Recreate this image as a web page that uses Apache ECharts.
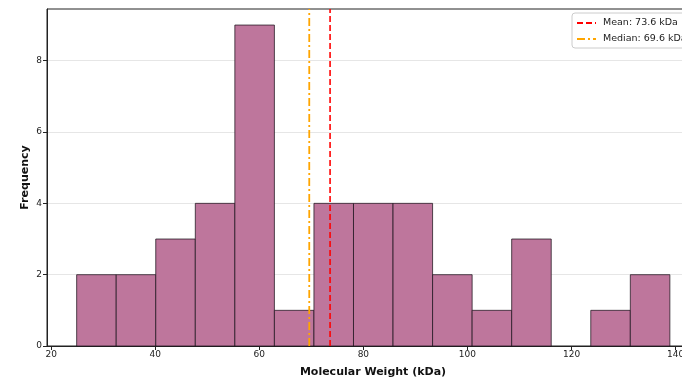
<!DOCTYPE html>
<html>
<head>
<meta charset="utf-8">
<script src="https://cdn.jsdelivr.net/npm/echarts@6/dist/echarts.min.js"></script>
<style>
  html, body { margin: 0; padding: 0; background: #fff; }
  #chart { width: 682px; height: 378px; }
</style>
</head>
<body>
<div id="chart"></div>
<script>
// Histogram of protein molecular weights
const binStart = 24.9;
const binWidth = 7.6;
const binCounts = [2, 2, 3, 4, 9, 1, 4, 4, 4, 2, 1, 3, 0, 1, 2];
const meanValue = 73.6;
const medianValue = 69.6;
const xTicks = [20, 40, 60, 80, 100, 120, 140];
const yTicks = [0, 2, 4, 6, 8];
const xRange = [19.2, 144.5];
const yRange = [0, 9.45];

// [left edge, right edge, count] for each bin
const bins = binCounts.map((c, i) => [
  binStart + i * binWidth,
  binStart + (i + 1) * binWidth,
  c
]);

const font = 'DejaVu Sans';
const chart = echarts.init(document.getElementById('chart'), null, { renderer: 'canvas' });

chart.setOption({
  animation: false,
  backgroundColor: '#ffffff',
  grid: {
    left: 47, top: 9, right: -17, bottom: 32,
    outerBoundsMode: 'none',
    containLabel: false,
    show: true, borderColor: '#222', borderWidth: 1, backgroundColor: 'transparent'
  },
  legend: {
    left: 572, top: 13,
    orient: 'vertical',
    backgroundColor: '#fff',
    borderColor: '#ccc', borderWidth: 1, borderRadius: 3,
    padding: [5, 10, 4, 4],
    itemWidth: 19, itemHeight: 10, itemGap: 6,
    itemStyle: { opacity: 0 },
    textStyle: { fontFamily: font, fontSize: 9.5, color: '#222', padding: [0, 0, 0, 2] },
    data: [`Mean: ${meanValue} kDa`, `Median: ${medianValue} kDa`]
  },
  xAxis: {
    type: 'value',
    min: xRange[0], max: xRange[1],
    name: 'Molecular Weight (kDa)',
    nameLocation: 'middle', nameGap: 21,
    nameMoveOverlap: false,
    nameTextStyle: { fontFamily: font, fontSize: 11, fontWeight: 'bold', color: '#111' },
    axisLine: { show: true, onZero: false, lineStyle: { color: '#222', width: 1 } },
    axisTick: { show: true, length: 4, lineStyle: { color: '#222' }, customValues: xTicks },
    axisLabel: { fontFamily: font, fontSize: 9, color: '#222', margin: 4, customValues: xTicks },
    splitLine: { show: false }
  },
  yAxis: {
    type: 'value',
    min: yRange[0], max: yRange[1],
    name: 'Frequency',
    nameLocation: 'middle', nameGap: 16, nameRotate: 90,
    nameMoveOverlap: false,
    nameTextStyle: { fontFamily: font, fontSize: 11, fontWeight: 'bold', color: '#111' },
    axisLine: { show: true, lineStyle: { color: '#222', width: 1 } },
    axisTick: { show: true, length: 4, lineStyle: { color: '#222' }, customValues: yTicks },
    axisLabel: { fontFamily: font, fontSize: 9, color: '#222', margin: 5, customValues: yTicks },
    splitLine: { show: true, lineStyle: { color: '#e6e6e6', width: 1 } }
  },
  series: [
    {
      type: 'custom',
      name: 'bins',
      data: bins,
      encode: { x: [0, 1], y: 2 },
      renderItem: function (params, api) {
        const x0 = api.value(0), x1 = api.value(1), c = api.value(2);
        if (c <= 0) return null;
        const p0 = api.coord([x0, c]);
        const p1 = api.coord([x1, 0]);
        return {
          type: 'rect',
          shape: { x: p0[0], y: p0[1], width: p1[0] - p0[0], height: p1[1] - p0[1] },
          style: { fill: '#be769c', stroke: 'rgba(30,20,30,0.75)', lineWidth: 1 }
        };
      },
      z: 2
    },
    {
      type: 'line',
      name: `Mean: ${meanValue} kDa`,
      data: [[meanValue, yRange[0]], [meanValue, yRange[1]]],
      symbol: 'none',
      color: '#ff0000',
      lineStyle: { color: '#ff0000', width: 1.6, type: [6, 3] },
      z: 3
    },
    {
      type: 'line',
      name: `Median: ${medianValue} kDa`,
      data: [[medianValue, yRange[0]], [medianValue, yRange[1]]],
      symbol: 'none',
      color: '#ffa500',
      lineStyle: { color: '#ffa500', width: 1.8, type: [8, 3, 2, 3] },
      z: 3
    }
  ]
});
</script>
</body>
</html>
